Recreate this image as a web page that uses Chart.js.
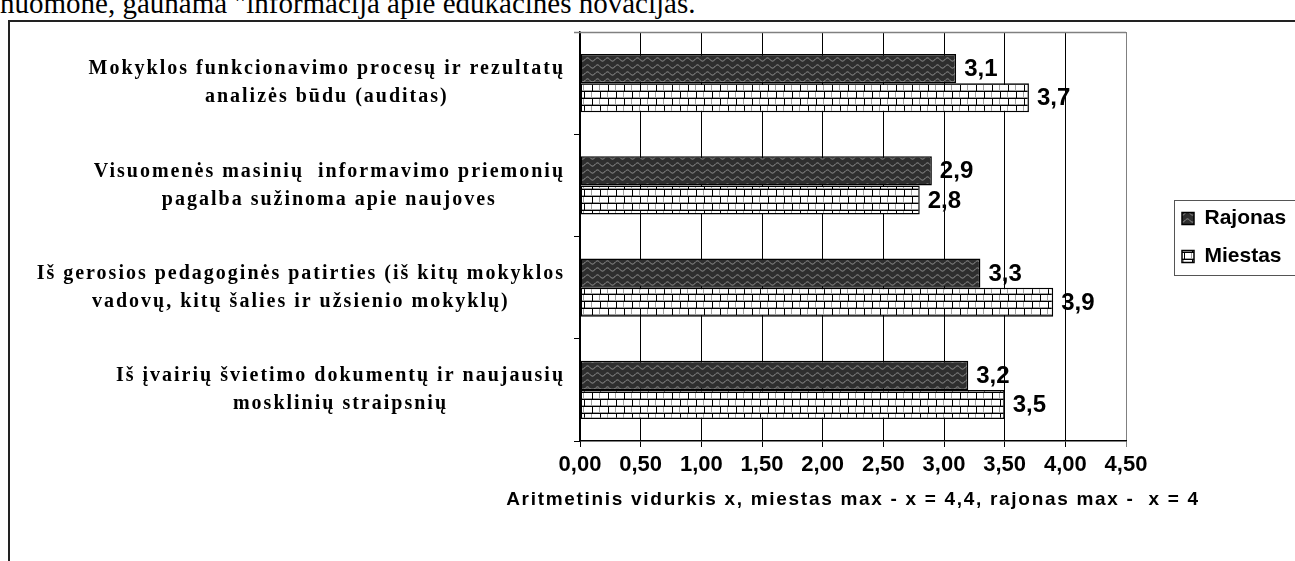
<!DOCTYPE html>
<html><head><meta charset="utf-8">
<script src="https://cdn.jsdelivr.net/npm/chart.js@4/dist/chart.umd.min.js"></script>
<style>
html,body{margin:0;padding:0;width:1295px;height:561px;overflow:hidden;background:#fff;}
#para{position:absolute;left:0;top:-11px;font:29px/29px "Liberation Serif","Times New Roman",serif;white-space:pre;color:#000;}
#frame{position:absolute;left:8px;top:20px;width:1400px;height:700px;border-left:2px solid #222;border-top:2px solid #222;}
#c{position:absolute;left:0;top:0;}
</style></head><body>
<div id="para">nuomone, gaunama "informacija apie edukacines novacijas.</div>
<div id="frame"></div>
<canvas id="c" width="1295" height="561"></canvas>
<script>
const categories = [
  ['Mokyklos funkcionavimo procesų ir rezultatų', 'analizės būdu (auditas)'],
  ['Visuomenės masinių  informavimo priemonių', 'pagalba sužinoma apie naujoves'],
  ['Iš gerosios pedagoginės patirties (iš kitų mokyklos', 'vadovų, kitų šalies ir užsienio mokyklų)'],
  ['Iš įvairių švietimo dokumentų ir naujausių', 'mosklinių straipsnių']
];
const seriesNames = ['Rajonas', 'Miestas'];
const rajonas = [3.1, 2.9, 3.3, 3.2];
const miestas = [3.7, 2.8, 3.9, 3.5];
const xTickLabels = ['0,00','0,50','1,00','1,50','2,00','2,50','3,00','3,50','4,00','4,50'];
const xAxisTitle = 'Aritmetinis vidurkis x, miestas max - x = 4,4, rajonas max -  x = 4';

const SANS = '"Liberation Sans", Arial, sans-serif';
const SERIF = '"Liberation Serif", "Times New Roman", serif';
const Y_LABEL_SIZE = 20, Y_LABEL_LINE = 28;

function wavePattern(){
  const c=document.createElement('canvas'); c.width=10; c.height=7;
  const g=c.getContext('2d');
  g.fillStyle='#2e2e2e'; g.fillRect(0,0,10,7);
  g.strokeStyle='#9a9a9a'; g.lineWidth=1;
  g.beginPath();
  for(let x=0;x<=10;x+=0.5){ const y=3.5+1.6*Math.sin(2*Math.PI*x/10); if(x===0) g.moveTo(x,y); else g.lineTo(x,y); }
  g.stroke();
  return g.createPattern(c,'repeat');
}
function brickPattern(){
  const c=document.createElement('canvas'); c.width=16; c.height=14;
  const g=c.getContext('2d');
  g.fillStyle='#fff'; g.fillRect(0,0,16,14);
  g.fillStyle='#a0a0a0'; g.fillRect(0,6,16,1); g.fillRect(0,13,16,1); g.fillRect(7,0,1,6); g.fillRect(15,7,1,6);
  g.fillStyle='#000'; g.fillRect(0,0,16,1); g.fillRect(0,7,16,1); g.fillRect(0,0,1,7); g.fillRect(8,7,1,7);
  return g.createPattern(c,'repeat');
}
const wave = wavePattern();
const brick = brickPattern();

const fmt = v => v.toFixed(1).replace('.', ',');

const valueLabels = {
  id:'valueLabels',
  afterDatasetsDraw(chart){
    const ctx=chart.ctx; ctx.save();
    ctx.font='bold 24px '+SANS; ctx.fillStyle='#000'; ctx.textAlign='left'; ctx.textBaseline='middle';
    chart.data.datasets.forEach((ds,di)=>{
      chart.getDatasetMeta(di).data.forEach((bar,i)=>{ ctx.fillText(fmt(ds.data[i]), bar.x+8, bar.y+1); });
    });
    ctx.restore();
  }
};
const frameAndLegend = {
  id:'frameAndLegend',
  afterLayout(chart){
    const lg=chart.legend, ca=chart.chartArea;
    const dx = ca.right + 39 - lg.left; lg.left += dx; lg.right += dx;
    const dy = (ca.top+ca.bottom)/2 + 1 - (lg.top+lg.bottom)/2; lg.top += dy; lg.bottom += dy;
  },
  afterDraw(chart){
    const ctx=chart.ctx, ca=chart.chartArea;
    ctx.save();
    ctx.strokeStyle='#808080'; ctx.lineWidth=1.5;
    ctx.beginPath(); ctx.moveTo(ca.left-6, ca.top+0.5); ctx.lineTo(ca.right, ca.top+0.5); ctx.stroke();
    const hb=chart.legend.legendHitBoxes;
    if(hb && hb.length){
      const top=hb[0].top-8, bottom=hb[hb.length-1].top+hb[hb.length-1].height+8;
      const left=hb[0].left-8;
      ctx.strokeStyle='#555'; ctx.lineWidth=1;
      ctx.strokeRect(left+0.5, top+0.5, chart.width+20-left, bottom-top);
    }
    ctx.restore();
  }
};

new Chart(document.getElementById('c'), {
  type:'bar',
  data:{
    labels:categories,
    datasets:[
      {label:seriesNames[0], data:rajonas, backgroundColor:wave, borderColor:'#000', borderWidth:1.5, borderSkipped:false},
      {label:seriesNames[1], data:miestas, backgroundColor:brick, borderColor:'#000', borderWidth:1.5, borderSkipped:false}
    ]
  },
  options:{
    indexAxis:'y', responsive:false, animation:false, devicePixelRatio:1,
    layout:{padding:{left:0, top:32, right:39, bottom:0}},
    datasets:{bar:{categoryPercentage:0.57, barPercentage:1.0}},
    scales:{
      x:{
        min:0, max:4.5,
        ticks:{stepSize:0.5, autoSkip:false, maxRotation:0, color:'#000', padding:5,
          callback:(v,i)=>xTickLabels[i], font:{family:SANS, size:22, weight:'bold'}},
        grid:{color:c=> c.index===xTickLabels.length-1 ? '#808080' : '#000', lineWidth:1, tickLength:6},
        border:{color:'#000', width:1.5},
        title:{display:true, text:xAxisTitle, color:'#000', font:{family:SANS, size:19, weight:'bold'}, padding:{top:0, bottom:50}},
        beforeUpdate(s){
          if(s._wrapped) return; s._wrapped=true;
          const orig=s.drawTitle;
          s.drawTitle=function(){
            const l=this.left, r=this.right, ctx=this.ctx;
            ctx.save(); ctx.letterSpacing='1.7px'; this.left=l-300; this.right=r+300;
            try{ orig.call(this); } finally { this.left=l; this.right=r; ctx.restore(); }
          };
        },
        afterFit(s){ s.height=120; s.paddingLeft=0; s.paddingRight=0; }
      },
      y:{
        ticks:{autoSkip:false, color:'#000', padding:9, font:{family:SERIF, size:Y_LABEL_SIZE, weight:'bold', lineHeight:1}},
        grid:{drawOnChartArea:false, color:'#000', tickLength:6},
        border:{color:'#000', width:1.5},
        beforeUpdate(s){
          if(s._wrapped) return; s._wrapped=true;
          s.drawLabels=function(chartArea){
            const ctx=this.ctx, items=this.getLabelItems(chartArea), t=this.options.ticks;
            ctx.save();
            ctx.font='bold '+Y_LABEL_SIZE+'px '+SERIF; ctx.letterSpacing='2px';
            ctx.fillStyle='#000'; ctx.textAlign='center'; ctx.textBaseline='middle';
            const rightEdge=this.right-this.options.grid.tickLength-t.padding;
            for(const it of items){
              const lines=Array.isArray(it.label)?it.label:[it.label];
              const bw=Math.max(...lines.map(l=>ctx.measureText(l).width));
              const cx=rightEdge-bw/2, y0=it.options.translation[1];
              lines.forEach((l,i)=>ctx.fillText(l, cx, y0+(i-(lines.length-1)/2)*Y_LABEL_LINE));
            }
            ctx.restore();
          };
        },
        afterFit(s){ s.width=580; s.paddingTop=0; s.paddingBottom=0; }
      }
    },
    plugins:{
      legend:{position:'right', maxWidth:130,
        labels:{boxWidth:12, boxHeight:12, padding:17, color:'#000', font:{family:SANS, size:21, weight:'bold'}}},
      tooltip:{enabled:false}
    }
  },
  plugins:[valueLabels, frameAndLegend]
});
</script>
</body></html>
